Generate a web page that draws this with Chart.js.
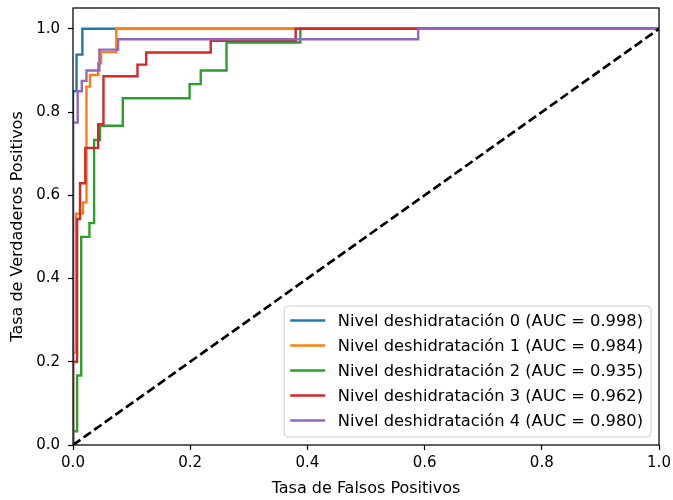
<!DOCTYPE html>
<html>
<head>
<meta charset="utf-8">
<script src="https://cdn.jsdelivr.net/npm/chart.js@4.4.1/dist/chart.umd.min.js"></script>
<style>
  html, body { margin: 0; padding: 0; background: #fff; }
</style>
</head>
<body>
<canvas id="roc" width="673" height="500"></canvas>
<script>
// curvas ROC por nivel (fpr / tpr)
var classNames = ['Nivel deshidratación 0', 'Nivel deshidratación 1', 'Nivel deshidratación 2',
                  'Nivel deshidratación 3', 'Nivel deshidratación 4'];
var aucValues = [0.998, 0.984, 0.935, 0.962, 0.980];
var colors = ['#1f77b4', '#ff7f0e', '#2ca02c', '#d62728', '#9467bd'];

var fpr0 = [0, 0, 0.006, 0.006, 0.016, 0.016, 1];
var tpr0 = [0, 0.85, 0.85, 0.938, 0.938, 1, 1];

var fpr1 = [0, 0, 0.005, 0.005, 0.017, 0.017, 0.023, 0.023, 0.029, 0.029, 0.043, 0.043, 0.048, 0.048, 0.074, 0.074, 1];
var tpr1 = [0, 0.222, 0.222, 0.556, 0.556, 0.583, 0.583, 0.861, 0.861, 0.889, 0.889, 0.917, 0.917, 0.944, 0.944, 1, 1];

var fpr2 = [0, 0, 0.007, 0.007, 0.014, 0.014, 0.028, 0.028, 0.036, 0.036, 0.046, 0.046, 0.085, 0.085, 0.199, 0.199, 0.218, 0.218, 0.262, 0.262, 0.388, 0.388, 1];
var tpr2 = [0, 0.033, 0.033, 0.167, 0.167, 0.5, 0.5, 0.533, 0.533, 0.733, 0.733, 0.767, 0.767, 0.833, 0.833, 0.867, 0.867, 0.9, 0.9, 0.967, 0.967, 1, 1];

var fpr3 = [0, 0, 0.007, 0.007, 0.012, 0.012, 0.021, 0.021, 0.043, 0.043, 0.052, 0.052, 0.11, 0.11, 0.125, 0.125, 0.235, 0.235, 0.38, 0.38, 1];
var tpr3 = [0, 0.2, 0.2, 0.543, 0.543, 0.629, 0.629, 0.714, 0.714, 0.771, 0.771, 0.886, 0.886, 0.914, 0.914, 0.943, 0.943, 0.971, 0.971, 1, 1];

var fpr4 = [0, 0, 0.008, 0.008, 0.015, 0.015, 0.023, 0.023, 0.045, 0.045, 0.077, 0.077, 0.589, 0.589, 1];
var tpr4 = [0, 0.775, 0.775, 0.85, 0.85, 0.875, 0.875, 0.9, 0.9, 0.95, 0.95, 0.975, 0.975, 1, 1];

var chanceX = [0, 1];
var chanceY = [0, 1];

var xTicks = [0, 0.2, 0.4, 0.6, 0.8, 1.0];
var yTicks = [0, 0.2, 0.4, 0.6, 0.8, 1.0];

var FONT = "'DejaVu Sans', sans-serif";

function toPoints(xs, ys) {
    var pts = [];
    for (var i = 0; i < xs.length; i++) pts.push({x: xs[i], y: ys[i]});
    return pts;
}

var allFpr = [fpr0, fpr1, fpr2, fpr3, fpr4];
var allTpr = [tpr0, tpr1, tpr2, tpr3, tpr4];

var datasets = [];
for (var i = 0; i < 5; i++) {
    datasets.push({
        label: classNames[i] + ' (AUC = ' + aucValues[i].toFixed(3) + ')',
        data: toPoints(allFpr[i], allTpr[i]),
        borderColor: colors[i],
        borderWidth: 2.4,
        pointRadius: 0,
        tension: 0,
        order: 5 - i
    });
}
datasets.push({
    label: 'azar',
    data: toPoints(chanceX, chanceY),
    borderColor: '#000',
    borderWidth: 2.7,
    borderDash: [9, 4],
    pointRadius: 0,
    order: 0,
    isChance: true
});

// marco de los ejes + leyenda abajo a la derecha
var framePlugin = {
    id: 'frame',
    afterDraw: function(chart) {
        var ctx = chart.ctx, ca = chart.chartArea;
        ctx.save();
        ctx.strokeStyle = '#000';
        ctx.lineWidth = 1.25;
        ctx.strokeRect(ca.left, ca.top, ca.right - ca.left, ca.bottom - ca.top);

        ctx.font = '16.3px ' + FONT;
        var items = chart.data.datasets.filter(function(d) { return !d.isChance; });
        var tw = 0;
        items.forEach(function(d) { tw = Math.max(tw, ctx.measureText(d.label).width); });
        var rowH = 25;
        var w = 6 + 35 + 12.5 + tw + 8;
        var h = rowH * (items.length - 1) + 14.5 + 16.5;
        var bx = ca.right - 8 - w, by = ca.bottom - 8 - h;

        ctx.beginPath();
        ctx.roundRect(bx, by, w, h, 4);
        ctx.fillStyle = 'rgba(255,255,255,0.8)';
        ctx.fill();
        ctx.strokeStyle = '#cccccc';
        ctx.lineWidth = 1;
        ctx.stroke();

        ctx.textBaseline = 'middle';
        ctx.textAlign = 'left';
        items.forEach(function(d, k) {
            var cy = by + 14.5 + k * rowH;
            ctx.beginPath();
            ctx.moveTo(bx + 6, cy);
            ctx.lineTo(bx + 41, cy);
            ctx.strokeStyle = d.borderColor;
            ctx.lineWidth = 2.4;
            ctx.stroke();
            ctx.fillStyle = '#000';
            ctx.fillText(d.label, bx + 53.5, cy + 1);
        });
        ctx.restore();
    }
};

var tickGrid = {
    display: true,
    drawOnChartArea: false,
    drawTicks: true,
    tickLength: 5,
    tickWidth: 1.2,
    tickColor: '#000'
};

var ctx = document.getElementById('roc').getContext('2d');
var rocChart = new Chart(ctx, {
    type: 'line',
    data: { datasets: datasets },
    options: {
        responsive: false,
        animation: false,
        layout: { padding: { left: 0, right: 14, top: 8, bottom: 0 } },
        plugins: { legend: { display: false }, tooltip: { enabled: false } },
        scales: {
            x: {
                type: 'linear',
                min: 0,
                max: 1,
                grid: tickGrid,
                border: { display: false },
                afterBuildTicks: function(s) { s.ticks = xTicks.map(function(v) { return {value: v}; }); },
                afterFit: function(s) { s.height = 55; s.paddingLeft = 0; s.paddingRight = 0; },
                ticks: {
                    color: '#000',
                    padding: 4,
                    maxRotation: 0,
                    font: { family: FONT, size: 15 },
                    callback: function(v) { return Number(v).toFixed(1); }
                },
                title: {
                    display: true,
                    text: 'Tasa de Falsos Positivos',
                    color: '#000',
                    font: { family: FONT, size: 16 },
                    padding: { top: 0, bottom: 2 }
                }
            },
            y: {
                type: 'linear',
                min: 0,
                max: 1.05,
                grid: tickGrid,
                border: { display: false },
                afterBuildTicks: function(s) { s.ticks = yTicks.map(function(v) { return {value: v}; }); },
                afterFit: function(s) { s.width = 73; s.paddingTop = 0; s.paddingBottom = 0; },
                ticks: {
                    color: '#000',
                    padding: 8,
                    font: { family: FONT, size: 15 },
                    callback: function(v) { return Number(v).toFixed(1); }
                },
                title: {
                    display: true,
                    text: 'Tasa de Verdaderos Positivos',
                    color: '#000',
                    font: { family: FONT, size: 16 },
                    padding: { top: 8, bottom: 0 }
                }
            }
        }
    },
    plugins: [framePlugin]
});
</script>
</body>
</html>
